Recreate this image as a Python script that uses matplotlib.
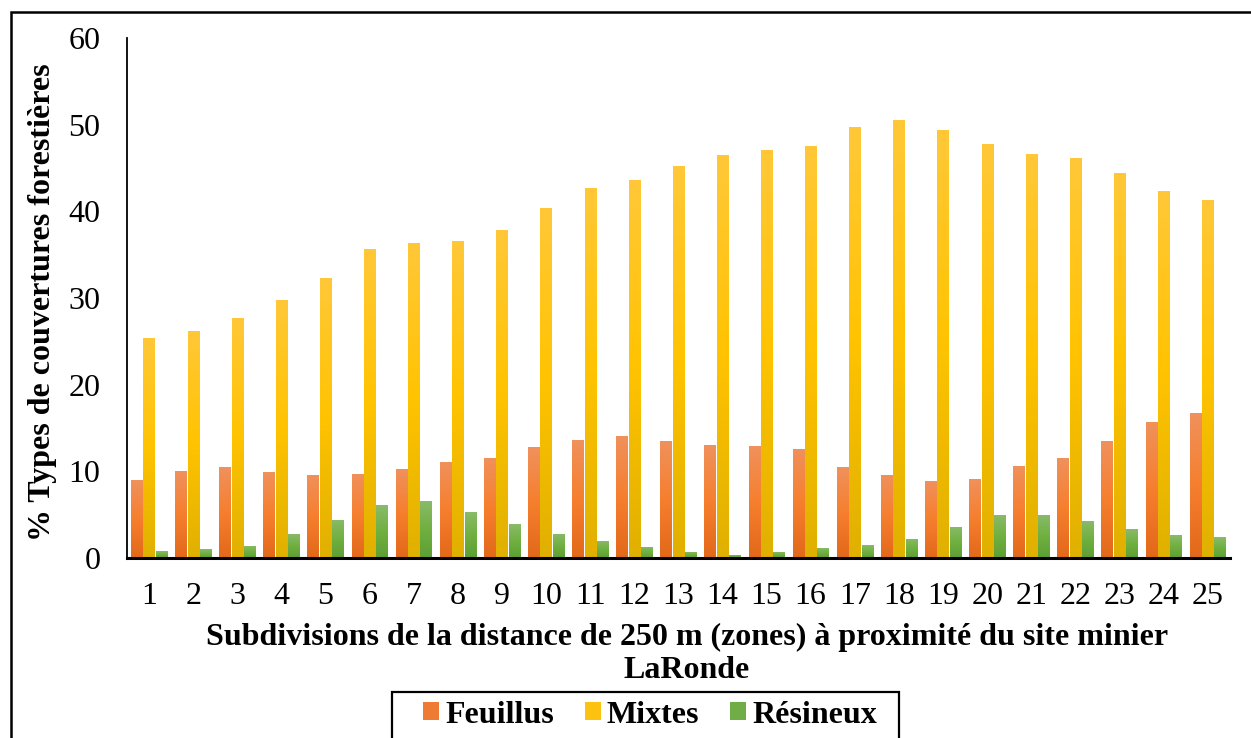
import numpy as np
import matplotlib
matplotlib.use('Agg')
import matplotlib.pyplot as plt
from matplotlib.colors import LinearSegmentedColormap
from matplotlib.patches import Rectangle, Patch

plt.rcParams['font.family'] = ['Liberation Serif', 'DejaVu Serif']

# zones de 250 m autour du site minier
zones = list(range(1, 26))
feuillus = [9.0, 10.0, 10.5, 9.9, 9.6, 9.7, 10.3, 11.1, 11.5, 12.8,
            13.6, 14.1, 13.5, 13.0, 12.9, 12.6, 10.5, 9.6, 8.9, 9.1,
            10.6, 11.5, 13.5, 15.7, 16.7]
mixtes = [25.4, 26.2, 27.7, 29.8, 32.3, 35.6, 36.3, 36.6, 37.9, 40.4,
          42.7, 43.6, 45.2, 46.5, 47.1, 47.5, 49.7, 50.5, 49.4, 47.8,
          46.6, 46.1, 44.4, 42.3, 41.3]
resineux = [0.8, 1.0, 1.4, 2.8, 4.4, 6.1, 6.6, 5.3, 3.9, 2.8,
            2.0, 1.3, 0.7, 0.35, 0.7, 1.2, 1.5, 2.2, 3.6, 5.0,
            5.0, 4.3, 3.3, 2.6, 2.4]
series = ['Feuillus', 'Mixtes', 'Résineux']

# gradients (bottom -> middle -> top)
grads = {
    'Feuillus': ['#E2681A', '#F67F2E', '#F0915C'],
    'Mixtes': ['#E0B000', '#FFC300', '#FFC838'],
    'Résineux': ['#5E9F34', '#70B040', '#8ABB6A'],
}
solid = {'Feuillus': '#EE7A33', 'Mixtes': '#FDC20F', 'Résineux': '#70AD47'}

W, H = 1251, 738
fig = plt.figure(figsize=(W / 100, H / 100), dpi=100)
ax = fig.add_axes([0.1015, 0.2439, 0.8815, 0.7046])

x = np.arange(1, 26)
width = 0.255
offset = 0.28
grad_img = np.linspace(0, 1, 256).reshape(-1, 1)

for i, (name, vals) in enumerate(zip(series, [feuillus, mixtes, resineux])):
    cmap = LinearSegmentedColormap.from_list(name, grads[name])
    bars = ax.bar(x + (i - 1) * offset, vals, width, color='none', edgecolor='none')
    for b in bars:
        x0, y0 = b.get_x(), b.get_y()
        w, h = b.get_width(), b.get_height()
        im = ax.imshow(grad_img, cmap=cmap, origin='lower', aspect='auto',
                       extent=[x0, x0 + w, y0, y0 + h], zorder=2)
        im.set_clip_path(b)

ax.set_xlim(0.5, 25.5)
ax.set_ylim(0, 60)
ax.set_yticks(range(0, 61, 10))
ax.set_xticks(x)
ax.set_xticklabels([str(z) for z in zones])
ax.tick_params(axis='both', length=0, labelsize=23)
ax.tick_params(axis='y', pad=19)
ax.tick_params(axis='x', pad=17)
for s in ['top', 'right']:
    ax.spines[s].set_visible(False)
ax.spines['left'].set_linewidth(1.3)
ax.spines['bottom'].set_linewidth(2.2)

fig.text(0.034, 0.591, '% Types de couvertures forestières', rotation=90,
         ha='center', va='center', fontsize=23, fontweight='bold')
fig.text(0.549, 0.114, 'Subdivisions de la distance de 250 m (zones) à proximité du site minier\nLaRonde',
         ha='center', va='center', fontsize=23, fontweight='bold', linespacing=1.15)

handles = [Patch(facecolor=solid[n], edgecolor='none', label=n) for n in series]
leg = fig.legend(handles=handles, loc='center', bbox_to_anchor=(0.5196, 0.031),
                 ncol=3, prop={'weight': 'bold', 'size': 23}, frameon=False,
                 handlelength=0.5, handleheight=0.5, handletextpad=0.2,
                 columnspacing=0.95, borderpad=0, borderaxespad=0)

# legend box (runs off the bottom edge)
fig.patches.append(Rectangle((392 / W, -0.1), 507 / W, 0.1 + 46 / H,
                             transform=fig.transFigure, fill=False,
                             edgecolor='black', linewidth=1.6))

# outer border of the figure
fig.patches.append(Rectangle((11 / W, -0.1), 1.2, 1.1 - 12 / H,
                             transform=fig.transFigure, fill=False,
                             edgecolor='black', linewidth=1.8))

fig.savefig('out.png', dpi=100)
